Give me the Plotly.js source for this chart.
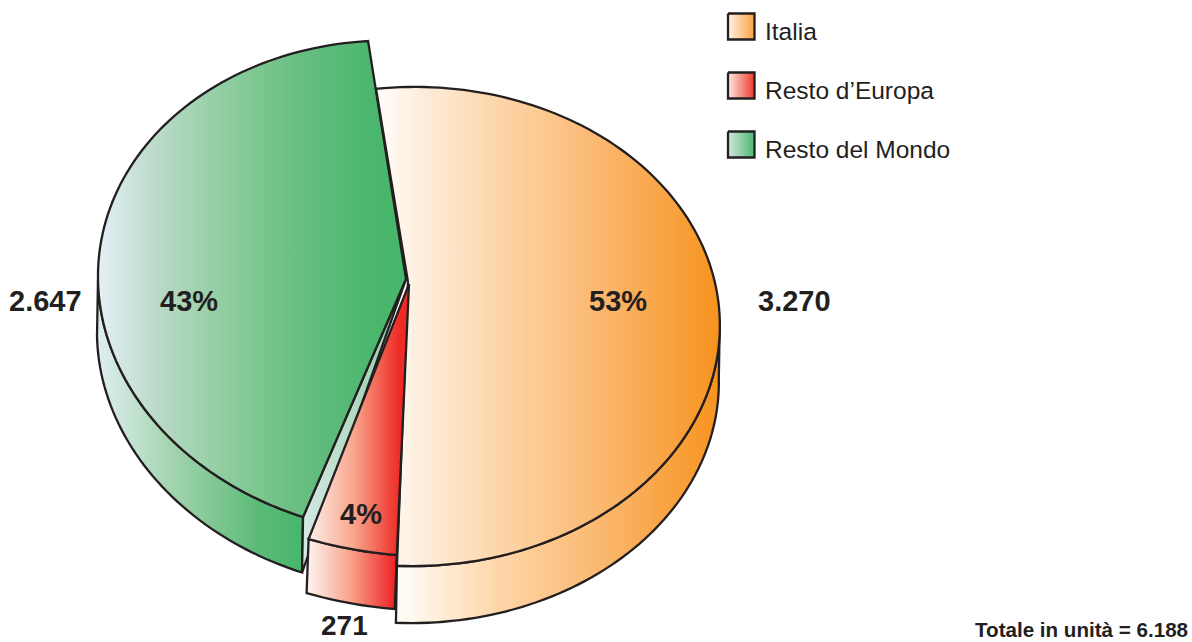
<!DOCTYPE html>
<html>
<head>
<meta charset="utf-8">
<script src="https://cdn.plot.ly/plotly-3.0.1.min.js"></script>
<style>html,body{margin:0;padding:0;background:#fff;overflow:hidden}</style>
</head>
<body>
<div id="chart" style="width:1192px;height:642px"></div>
<script>
const sliceNames = ['Italia', "Resto d\u2019Europa", 'Resto del Mondo'];
const sliceUnits = [3270, 271, 2647];
const unitLabels = ['3.270', '271', '2.647'];
const percentLabels = ['53%', '4%', '43%'];
const totalLabel = 'Totale in unit\u00e0 = 6.188';

const INK = '#231f20';
const total = sliceUnits.reduce((a, b) => a + b, 0);
const startAngle = -5.9;

// projected rim of each wedge: x = cx + a sin t + b cos t ; y = cy - c cos t + d sin t
const rims = [
  {cx: 413.8, a: 306, b: -6.3, cy: 326.5, c: 239.5, d: -6},
  {cx: 415.3, a: 327.6, b: -6.3, cy: 317.3, c: 239, d: 7.8},
  {cx: 404, a: 306, b: -4.5, cy: 287.6, c: 247.1, d: 7.6}
];
const apexes = [[408, 282], [409, 284], [406, 279]];
const depths = [[-1, 57], [-2, 54], [-1, 55.5]];
const orangeCs = [[0, '#fffefb'], [0.13, '#fdeedd'], [0.36, '#fdd5a8'], [0.65, '#fbb870'], [1, '#f7931e']];
const topGradients = [
  {start: 376, stop: 720, cs: orangeCs},
  {start: 309, stop: 400, cs: [[0, '#fdeee8'], [0.5, '#f7a48a'], [1, '#ee2a24']]},
  {start: 98, stop: 395, cs: [[0, '#e4eff6'], [0.17, '#c0dccf'], [0.34, '#a0d2ae'], [0.51, '#82c894'], [0.68, '#68be82'], [0.95, '#48b66b'], [1, '#48b66b']]}
];
const sideGradients = [
  {start: 396, stop: 720, cs: [[0, '#fffefb'], [0.32, '#fdd6a8'], [0.63, '#fbb870'], [1, '#f7931e']]},
  {start: 305, stop: 396, cs: [[0, '#fff8f5'], [0.5, '#f7a48a'], [1, '#ee2024']]},
  {start: 98, stop: 301, cs: [[0, '#dfeef0'], [0.35, '#a5d5b0'], [0.79, '#5cba78'], [1, '#48b66b']]}
];

const rad = d => d * Math.PI / 180;
function rimPoint(r, t) {
  return [r.cx + r.a * Math.sin(rad(t)) + r.b * Math.cos(rad(t)),
          r.cy - r.c * Math.cos(rad(t)) + r.d * Math.sin(rad(t))];
}
function arc(r, t0, t1) {
  const n = Math.max(2, Math.ceil(Math.abs(t1 - t0) / 1.5));
  const out = [];
  for (let i = 0; i <= n; i++) out.push(rimPoint(r, t0 + (t1 - t0) * i / n));
  return out;
}
function poly(pts, grad) {
  return {
    type: 'scatter', mode: 'lines', hoverinfo: 'skip', showlegend: false,
    x: pts.map(p => p[0]), y: pts.map(p => p[1]),
    fill: 'toself',
    fillgradient: {type: 'horizontal', start: grad.start, stop: grad.stop, colorscale: grad.cs},
    line: {color: INK, width: 2.3, simplify: false}
  };
}

// angles from the values
let angle = startAngle;
const spans = sliceUnits.map(v => {
  const s = [angle, angle + 360 * v / total];
  angle = s[1];
  return s;
});

const traces = [];
// side walls
function wall(i, t0, t1) {
  const top = arc(rims[i], t0, t1);
  const bottom = top.slice().reverse().map(p => [p[0] + depths[i][0], p[1] + depths[i][1]]);
  return poly(top.concat(bottom, [top[0]]), sideGradients[i]);
}
traces.push(wall(2, spans[2][0], 270));
// cut face of the green wedge
{
  const e = rimPoint(rims[2], spans[2][0]);
  traces.push(poly([apexes[2], e, [e[0] + depths[2][0], e[1] + depths[2][1]], apexes[2]],
    {start: 300, stop: 408, cs: [[0, '#d6e9e6'], [1, '#8ecb9e']]}));
}
traces.push(wall(1, spans[1][0], spans[1][1]));
traces.push(wall(0, 90, spans[0][1]));
// top faces
[2, 0, 1].forEach(i => {
  const pts = [apexes[i]].concat(arc(rims[i], spans[i][0], spans[i][1]), [apexes[i]]);
  traces.push(poly(pts, topGradients[i]));
});
// legend swatches
const swatchX = [728, 754.5];
const swatchY = [[13.5, 39.5], [72.5, 98.5], [131.5, 157.5]];
const swatchCs = [
  [[0, '#fff3e4'], [1, '#f9a23f']],
  [[0, '#fde8e0'], [1, '#ef3a2c']],
  [[0, '#d2e6de'], [1, '#4ab870']]
];
swatchY.forEach((yy, i) => {
  traces.push(poly(
    [[swatchX[0], yy[0]], [swatchX[1], yy[0]], [swatchX[1], yy[1]], [swatchX[0], yy[1]], [swatchX[0], yy[0]]],
    {start: swatchX[0], stop: swatchX[1], cs: swatchCs[i]}));
});

function bold(s) { return '<b>' + s + '</b>'; }
function label(text, x, y, size, anchor) {
  return {
    text: text, x: x, y: y, xref: 'x', yref: 'y', showarrow: false,
    xanchor: anchor || 'center', yanchor: 'middle',
    font: {family: 'Liberation Sans, Arial, sans-serif', size: size, color: INK}
  };
}
const annotations = [
  label(bold(percentLabels[0]), 618, 301, 29),
  label(bold(percentLabels[1]), 361, 514, 29),
  label(bold(percentLabels[2]), 189, 301, 29),
  label(bold(unitLabels[0]), 794, 301, 29),
  label(bold(unitLabels[1]), 344, 625, 28),
  label(bold(unitLabels[2]), 45.5, 301, 29),
  label(bold(totalLabel), 1190, 629, 20.6, 'right')
];
sliceNames.forEach((n, i) => annotations.push(label(n, 763, [31, 90, 149][i], 24.5, 'left')));

Plotly.newPlot('chart', traces, {
  width: 1192, height: 642,
  margin: {l: 0, r: 0, t: 0, b: 0, pad: 0},
  paper_bgcolor: '#fff', plot_bgcolor: '#fff',
  showlegend: false,
  xaxis: {range: [0, 1192], visible: false, fixedrange: true},
  yaxis: {range: [642, 0], visible: false, fixedrange: true},
  annotations: annotations
}, {displayModeBar: false, staticPlot: true});
</script>
</body>
</html>
